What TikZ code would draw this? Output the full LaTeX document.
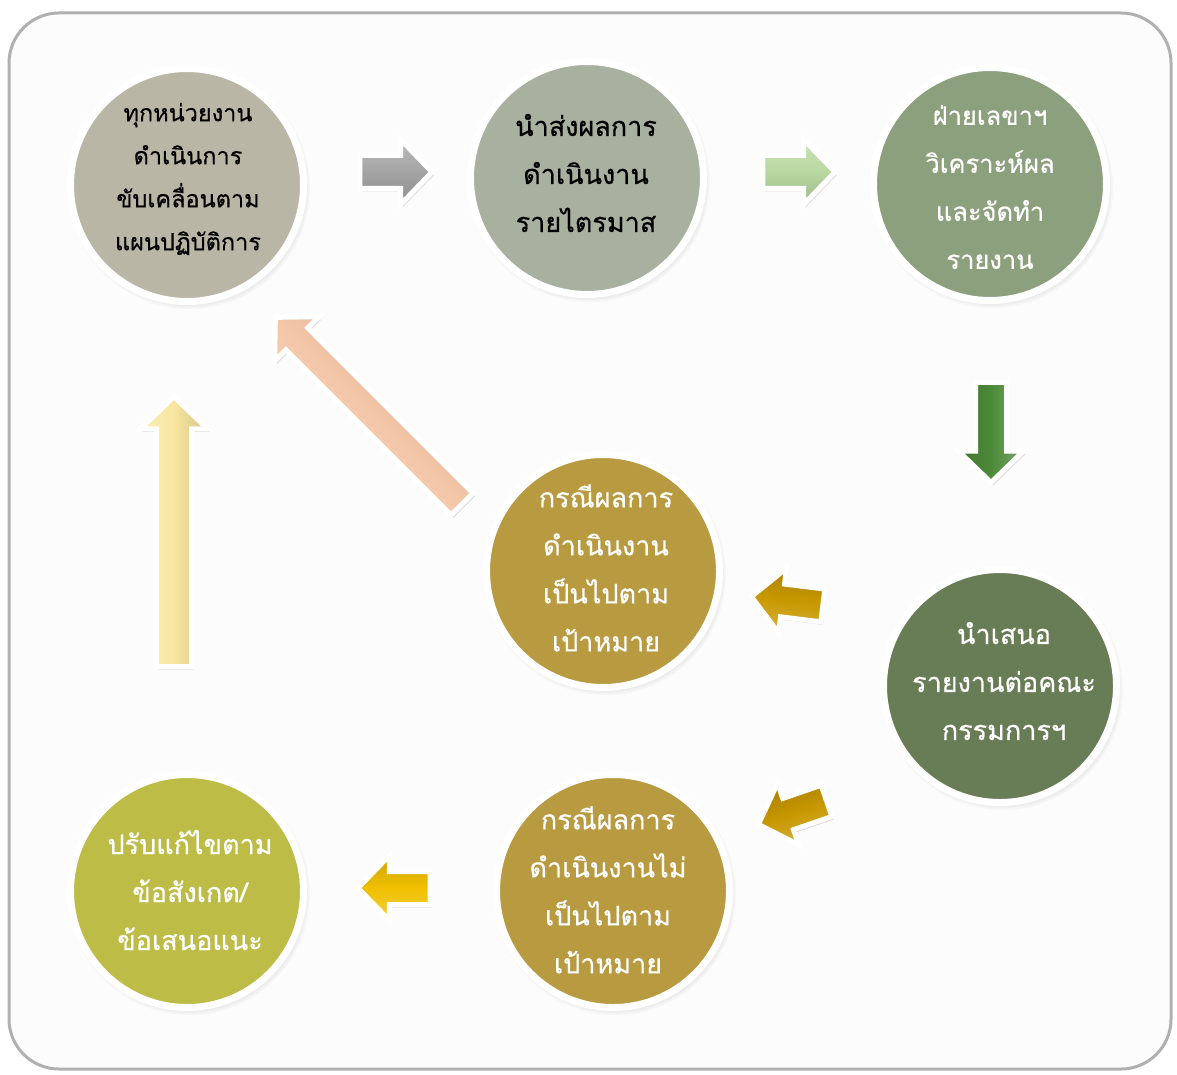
\documentclass[tikz,border=0pt]{standalone}
\usepackage{fontspec}
\newfontfamily\thaifont[Script=Thai,FakeBold=0.6]{Loma}
\usetikzlibrary{shapes.arrows,shadows}
\definecolor{cA}{HTML}{BAB6A6}
\definecolor{cB}{HTML}{A8B0A0}
\definecolor{cC}{HTML}{8DA07D}
\definecolor{cGold}{HTML}{B89A40}
\definecolor{cDG}{HTML}{687C55}
\definecolor{cOl}{HTML}{BCBC46}
\definecolor{aGray}{HTML}{A4A4A4}
\definecolor{aLG}{HTML}{B8D8A0}
\definecolor{aDG}{HTML}{4C8A38}
\definecolor{aGold}{HTML}{C89800}
\definecolor{aYel}{HTML}{F0C000}
\definecolor{aPeach}{HTML}{F4C6A8}
\definecolor{aLY}{HTML}{F8E6A0}
\definecolor{frameC}{HTML}{B0B0B0}
\tikzset{
  bubble/.style={circle, minimum size=233pt, inner sep=0pt, draw=white, line width=7pt,
    circular drop shadow={shadow scale=1.04, shadow xshift=2pt, shadow yshift=-3pt, opacity=.45}},
  btext/.style={align=center, inner sep=0pt, font=\thaifont\fontsize{27}{48}\selectfont},
  barrow/.style={single arrow, inner sep=0pt, draw=white, line width=5pt,
    text width=0pt, text height=14pt, text depth=14pt,
    single arrow head indent=0pt, single arrow tip angle=92, single arrow head extend=16pt,
    drop shadow={shadow xshift=2pt, shadow yshift=-3pt, opacity=.25}},
  bev/.style 2 args={top color=#1!75!white, bottom color=#1!85!black, middle color=#1, shading angle=#2, rotate=#2},
}
\begin{document}
\begin{tikzpicture}[x=1pt,y=-1pt]
\useasboundingbox (0,0) rectangle (1177,1075);
\fill[white] (0,0) rectangle (1177,1075);
% frame
\draw[rounded corners=50pt, draw=frameC, line width=3pt, fill=white!98!gray] (9,13) rectangle (1171,1069);

% circles
\node[bubble, fill=cA] (n1) at (187,185) {};
\node[bubble, fill=cB] (n2) at (587,178) {};
\node[bubble, fill=cC] (n3) at (990,184) {};
\node[bubble, fill=cGold] (n4) at (603,571) {};
\node[bubble, fill=cDG] (n5) at (1000,686) {};
\node[bubble, fill=cGold] (n6) at (613,891) {};
\node[bubble, fill=cOl] (n7) at (187,891) {};

% texts
\node[btext, text=black, font=\thaifont\fontsize{23.5}{43}\selectfont] (t1) at (188,179) {ทุกหน่วยงาน\\ดำเนินการ\\ขับเคลื่อนตาม\\แผนปฏิบัติการ};
\node[btext, text=black] (t2) at (586,173) {นำส่งผลการ\\ดำเนินงาน\\รายไตรมาส};
\node[btext, text=white, font=\thaifont\fontsize{25.5}{48}\selectfont] (t3) at (990,187) {ฝ่ายเลขาฯ\\วิเคราะห์ผล\\และจัดทำ\\รายงาน};
\node[btext, text=white] (t4) at (606,568) {กรณีผลการ\\ดำเนินงาน\\เป็นไปตาม\\เป้าหมาย};
\node[btext, text=white] (t5) at (1004,681) {นำเสนอ\\รายงานต่อคณะ\\กรรมการฯ};
\node[btext, text=white] (t6) at (608,890) {กรณีผลการ\\ดำเนินงานไม่\\เป็นไปตาม\\เป้าหมาย};
\node[btext, text=white] (t7) at (190,890) {ปรับแก้ไขตาม\\ข้อสังเกต/\\ข้อเสนอแนะ};

% block arrows
\node[barrow, bev={aGray}{0}, minimum height=72pt] (a1) at (388,172) {};
\node[barrow, bev={aLG}{0}, minimum height=72pt] (a2) at (791,172) {};
\node[barrow, bev={aDG}{-90}, minimum height=100pt, text height=13pt, text depth=13pt, single arrow head extend=17pt] (a3) at (991,425) {};
\node[barrow, bev={aGold}{173}, minimum height=72pt] (a4) at (795,602) {};
\node[barrow, bev={aGold}{199}, minimum height=72pt] (a5) at (800,810) {};
\node[barrow, bev={aYel}{180}, minimum height=72pt] (a6) at (402,888) {};
\node[barrow, bev={aPeach}{135}, minimum height=264pt, text height=13pt, text depth=13pt] (a7) at (374,416) {};
\node[barrow, bev={aLY}{90}, minimum height=270pt, text height=15pt, text depth=15pt] (a8) at (174,540) {};
\end{tikzpicture}
\end{document}
